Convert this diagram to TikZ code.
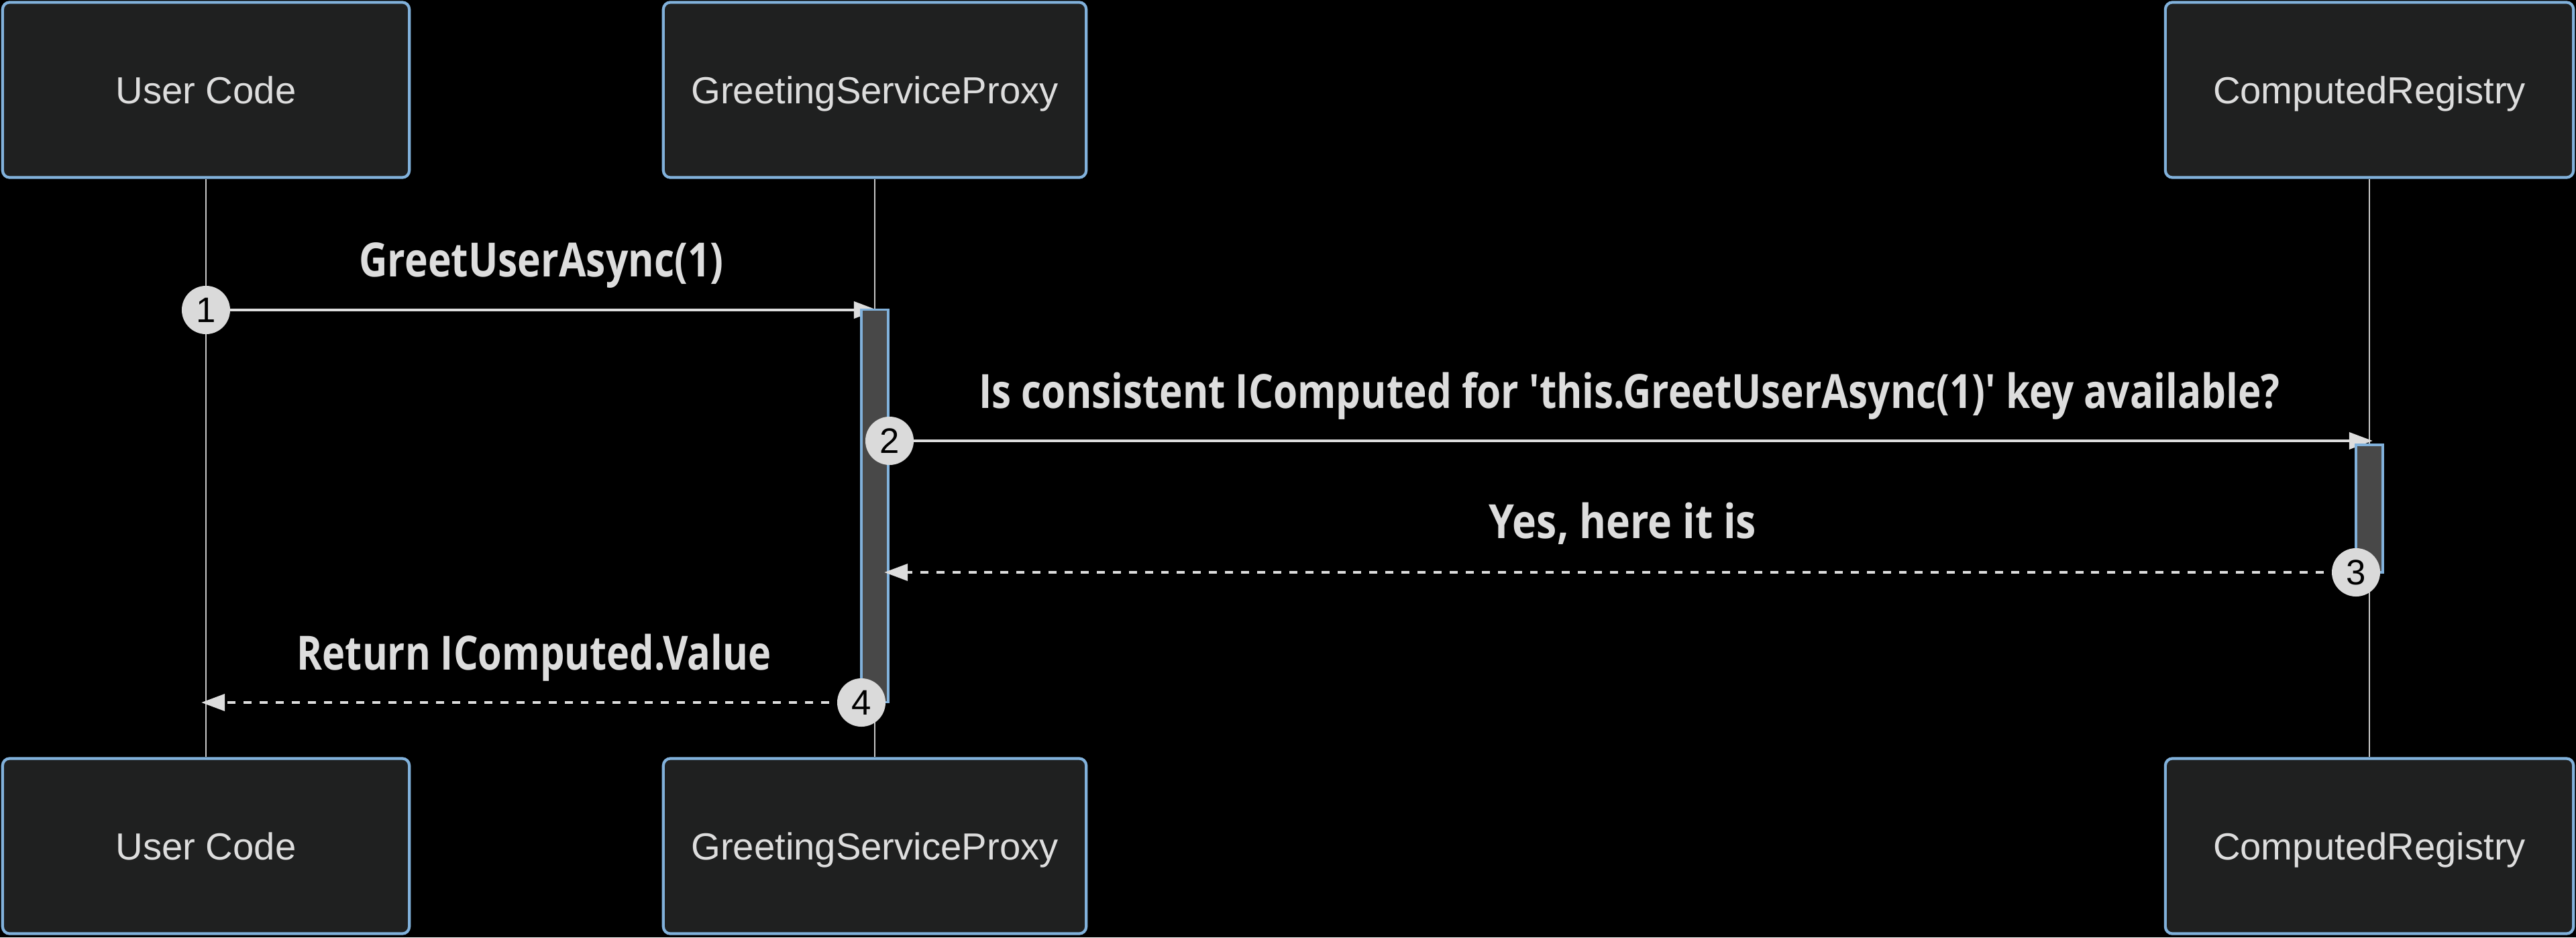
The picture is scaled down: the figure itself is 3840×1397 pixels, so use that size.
\documentclass[tikz,border=0pt]{standalone}
\usepackage{fontspec}
\usepackage{graphicx}
\setmainfont{Liberation Sans}
\newfontfamily\lblfont{Open Sans}[Ligatures=TeXOff]
\usetikzlibrary{arrows.meta}
\definecolor{actorborder}{HTML}{81B1DB}
\definecolor{actorfill}{HTML}{1F2020}
\definecolor{txt}{HTML}{DDDDDD}
\definecolor{msgcol}{HTML}{DDDDDD}
\definecolor{lifecol}{HTML}{C8C8C8}
\definecolor{barfill}{HTML}{484848}
\definecolor{numfill}{HTML}{DADADA}
\newcommand{\msglbl}[2]{\resizebox{#1}{\height}{\fontsize{20pt}{24pt}\selectfont\lblfont\bfseries #2}}
\pgfdeclarelayer{lzero}
\pgfdeclarelayer{lone}
\pgfdeclarelayer{ltwo}
\pgfdeclarelayer{lthree}
\pgfsetlayers{lzero,lone,ltwo,lthree,main}
\tikzset{
  actor/.style={draw=actorborder, fill=actorfill, line width=1.2pt, rounded corners=3pt,
    minimum height=2.61cm, inner sep=0pt, text=txt, font=\fontsize{16pt}{19pt}\selectfont,
    text height=13pt, text depth=1.54pt},
  lifeline/.style={draw=lifecol, line width=0.6pt},
  actbar/.style={draw=actorborder, fill=barfill, line width=0.9pt, minimum width=0.40cm, inner sep=0pt},
  seqnum/.style={circle, fill=numfill, minimum size=0.72cm, inner sep=0pt, text=black,
    font=\fontsize{15pt}{18pt}\selectfont},
  msg/.style={draw=msgcol, line width=1.4pt, -{Triangle[length=10pt,width=7pt]}, color=msgcol},
  reply/.style={msg, dash pattern=on 3.4pt off 3.4pt},
  msgtext/.style={text=txt, anchor=base, inner sep=0pt}
}
\begin{document}
\begin{tikzpicture}[x=0.01cm, y=-0.01cm]
\useasboundingbox (0,0) rectangle (3840,1397);

% participants
\node[actor, minimum width=6.06cm] (uTop) at (307,134) {User Code};
\node[actor, minimum width=6.30cm] (pTop) at (1304,134) {GreetingServiceProxy};
\node[actor, minimum width=6.08cm] (rTop) at (3532,134) {ComputedRegistry};
\node[actor, minimum width=6.06cm] (uBot) at (307,1261) {User Code};
\node[actor, minimum width=6.30cm] (pBot) at (1304,1261) {GreetingServiceProxy};
\node[actor, minimum width=6.08cm] (rBot) at (3532,1261) {ComputedRegistry};

% sequence numbers
\node[seqnum] (c1) at (307,462) {1};
\node[seqnum] (c2) at (1326,657) {2};
\node[seqnum] (c3) at (3512,853) {3};
\node[seqnum] (c4) at (1284,1047) {4};

% arrow end points
\coordinate (e1) at (1308,462);
\coordinate (e2) at (3537,657);
\coordinate (e3) at (1318,853);
\coordinate (e4) at (300,1047);

\begin{pgfonlayer}{lzero}
\fill[black] (0,0) rectangle (3840,1397);
\draw[lifeline] (uTop.south) -- (uBot.north);
\draw[lifeline] (pTop.south) -- (pBot.north);
\draw[lifeline] (rTop.south) -- (rBot.north);
\end{pgfonlayer}

\begin{pgfonlayer}{lone}
\draw[msg] (c1.center) -- (e1);
\draw[msg] (c2.center) -- (e2);
\end{pgfonlayer}

\begin{pgfonlayer}{ltwo}
\node[actbar, minimum height=5.85cm] (pAct) at (1304,754) {};
\node[actbar, minimum height=1.90cm] (rAct) at (3532,758) {};
\end{pgfonlayer}

\begin{pgfonlayer}{lthree}
\draw[reply] (c3.center) -- (e3);
\draw[reply] (c4.center) -- (e4);
\end{pgfonlayer}

% message labels
\node[msgtext] (t1) at (807,412) {\msglbl{5.43cm}{GreetUserAsync(1)}};
\node[msgtext] (t2) at (2429,608) {\msglbl{19.38cm}{Is consistent IComputed for 'this.GreetUserAsync(1)' key available?}};
\node[msgtext] (t3) at (2419,802) {\msglbl{3.98cm}{Yes, here it is}};
\node[msgtext] (t4) at (796,998) {\msglbl{7.06cm}{Return IComputed.Value}};
\end{tikzpicture}
\end{document}
